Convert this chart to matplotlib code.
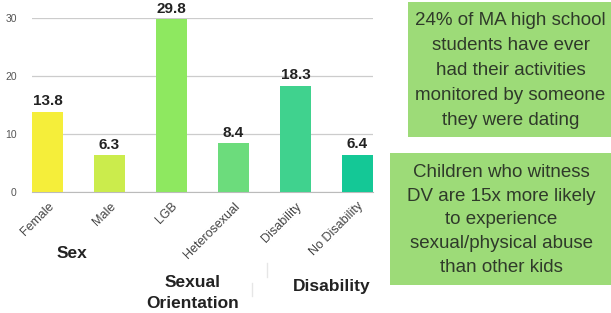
import matplotlib
matplotlib.use("Agg")
import matplotlib.pyplot as plt
from matplotlib.patches import Rectangle
from matplotlib.lines import Line2D

plt.rcParams['font.family'] = ['Liberation Sans', 'DejaVu Sans']

categories = ["Female", "Male", "LGB", "Heterosexual", "Disability", "No Disability"]
values = [13.8, 6.3, 29.8, 8.4, 18.3, 6.4]
colors = ["#f5ee3a", "#cbec4c", "#8ee860", "#6cdc7c", "#40d28e", "#14c896"]
yticks = [0, 10, 20, 30]
groups = ["Sex", "Sexual\nOrientation", "Disability"]
box_texts = [
    "24% of MA high school\nstudents have ever\nhad their activities\nmonitored by someone\nthey were dating",
    "Children who witness\nDV are 15x more likely\nto experience\nsexual/physical abuse\nthan other kids",
]

W, H = 611, 313
fig = plt.figure(figsize=(W / 100, H / 100), dpi=100)
fig.patch.set_facecolor("white")

def fx(px):
    return px / W

def fy(py):
    return 1 - py / H

ax = fig.add_axes([fx(32), fy(192), fx(373) - fx(32), fy(18) - fy(192)])
x = list(range(len(categories)))
bars = ax.bar(x, values, width=0.5, color=colors, zorder=3)
ax.set_xlim(-0.25, len(categories) - 0.75)
ax.set_ylim(0, 30)
ax.set_yticks(yticks)
ax.set_yticklabels([str(t) for t in yticks], fontsize=7.5, color="#555555")
ax.tick_params(axis="y", length=0, pad=11)
ax.grid(axis="y", color="#cccccc", linewidth=0.9, zorder=0)
for s in ["top", "right", "left"]:
    ax.spines[s].set_visible(False)
ax.spines["bottom"].set_color("#bbbbbb")
ax.set_xticks(x)
ax.set_xticklabels(categories, rotation=45, ha="right", rotation_mode="anchor",
                   fontsize=9, color="#444444")
ax.tick_params(axis="x", length=0, pad=6)
for xi, v in zip(x, values):
    ax.text(xi, v + 0.6, f"{v}", ha="center", va="bottom", fontsize=11,
            fontweight="bold", color="#222222", clip_on=False)

# group labels
fig.text(fx(72), fy(253), groups[0], ha="center", va="center", fontsize=12.5,
         fontweight="bold", color="#222222")
fig.text(fx(193), fy(293), groups[1], ha="center", va="center", fontsize=12.5,
         fontweight="bold", color="#222222", linespacing=1.45)
fig.text(fx(332), fy(286), groups[2], ha="center", va="center", fontsize=12.5,
         fontweight="bold", color="#222222")
fig.add_artist(Line2D([fx(267), fx(267)], [fy(263), fy(277)], color="#e6e6e6", lw=1))
fig.add_artist(Line2D([fx(252), fx(252)], [fy(283), fy(296)], color="#e6e6e6", lw=1))

# boxes
box_color = "#9ddb78"
boxes = [(408, 2, 611, 137), (390, 153, 611, 285)]
spacings = [1.62, 1.52]
for (x0, y0, x1, y1), txt, ls in zip(boxes, box_texts, spacings):
    fig.add_artist(Rectangle((fx(x0), fy(y1)), fx(x1) - fx(x0), fy(y0) - fy(y1),
                             transform=fig.transFigure, facecolor=box_color,
                             edgecolor="none"))
    fig.text(fx((x0 + x1) / 2 + 1), fy((y0 + y1) / 2 + 1), txt, ha="center", va="center",
             fontsize=13.5, color="#2f3a2a", linespacing=ls)

fig.savefig("out.png", dpi=100, facecolor="white")
